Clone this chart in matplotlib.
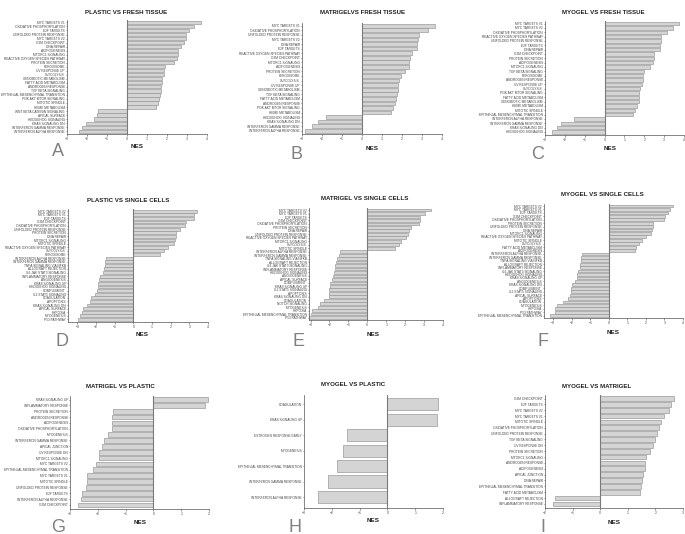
import numpy as np
import matplotlib
matplotlib.use("Agg")
import matplotlib.pyplot as plt

plt.rcParams['font.family'] = ['Liberation Sans', 'DejaVu Sans']

# ---- data (NES per hallmark set, top to bottom as in the figure) ----
a_labels = ["MYC TARGETS V1", "OXIDATIVE PHOSPHORYLATION", "E2F TARGETS", "UNFOLDED PROTEIN RESPONSE",
            "MYC TARGETS V2", "G2M CHECKPOINT", "DNA REPAIR", "ADIPOGENESIS", "MTORC1 SIGNALING",
            "REACTIVE OXYGEN SPECIES PATHWAY", "PROTEIN SECRETION", "PEROXISOME", "UV RESPONSE UP",
            "GLYCOLYSIS", "XENOBIOTIC METABOLISM", "FATTY ACID METABOLISM", "ANDROGEN RESPONSE",
            "TGF BETA SIGNALING", "EPITHELIAL MESENCHYMAL TRANSITION", "PI3K AKT MTOR SIGNALING",
            "MITOTIC SPINDLE", "HEME METABOLISM", "WNT BETA CATENIN SIGNALING", "APICAL SURFACE",
            "HEDGEHOG SIGNALING", "KRAS SIGNALING DN", "INTERFERON GAMMA RESPONSE", "INTERFERON ALPHA RESPONSE"]
a_nes = [3.72, 3.35, 3.1, 2.97, 2.93, 2.85, 2.72, 2.55, 2.55, 2.52, 2.35, 1.92, 1.87, 1.83, 1.77, 1.73,
         1.72, 1.70, 1.67, 1.6, 1.57, 1.47, -1.45, -1.52, -1.63, -2.07, -2.25, -2.4]

b_labels = ["MYC TARGETS V1", "OXIDATIVE PHOSPHORYLATION", "UNFOLDED PROTEIN RESPONSE", "MYC TARGETS V2",
            "DNA REPAIR", "E2F TARGETS", "REACTIVE OXYGEN SPECIES PATHWAY", "G2M CHECKPOINT",
            "MTORC1 SIGNALING", "ADIPOGENESIS", "PROTEIN SECRETION", "PEROXISOME", "GLYCOLYSIS",
            "UV RESPONSE UP", "XENOBIOTIC METABOLISM", "TGF BETA SIGNALING", "FATTY ACID METABOLISM",
            "ANDROGEN RESPONSE", "PI3K AKT MTOR SIGNALING", "HEME METABOLISM", "HEDGEHOG SIGNALING",
            "KRAS SIGNALING DN", "INTERFERON GAMMA RESPONSE", "INTERFERON ALPHA RESPONSE"]
b_nes = [3.66, 3.32, 2.85, 2.81, 2.76, 2.73, 2.5, 2.42, 2.37, 2.34, 2.17, 1.95, 1.85, 1.81, 1.78, 1.73,
         1.69, 1.64, 1.54, 1.44, -1.78, -2.19, -2.49, -2.86]

c_labels = ["MYC TARGETS V1", "MYC TARGETS V2", "OXIDATIVE PHOSPHORYLATION", "REACTIVE OXYGEN SPECIES PATHWAY",
            "UNFOLDED PROTEIN RESPONSE", "E2F TARGETS", "DNA REPAIR", "G2M CHECKPOINT", "PROTEIN SECRETION",
            "ADIPOGENESIS", "MTORC1 SIGNALING", "TGF BETA SIGNALING", "PEROXISOME", "ANDROGEN RESPONSE",
            "UV RESPONSE UP", "GLYCOLYSIS", "PI3K AKT MTOR SIGNALING", "FATTY ACID METABOLISM",
            "XENOBIOTIC METABOLISM", "HEME METABOLISM", "MITOTIC SPINDLE", "EPITHELIAL MESENCHYMAL TRANSITION",
            "INTERFERON ALPHA RESPONSE", "INTERFERON GAMMA RESPONSE", "KRAS SIGNALING DN", "HEDGEHOG SIGNALING"]
c_nes = [3.73, 3.44, 3.14, 2.85, 2.83, 2.8, 2.81, 2.51, 2.49, 2.46, 2.31, 2.0, 1.95, 1.92, 1.9, 1.78,
         1.75, 1.75, 1.71, 1.64, 1.53, 1.42, -1.56, -2.19, -2.41, -2.66]

d_labels = ["MYC TARGETS V2", "MYC TARGETS V1", "E2F TARGETS", "G2M CHECKPOINT", "OXIDATIVE PHOSPHORYLATION",
            "UNFOLDED PROTEIN RESPONSE", "PROTEIN SECRETION", "DNA REPAIR", "MTORC1 SIGNALING",
            "MITOTIC SPINDLE", "REACTIVE OXYGEN SPECIES PATHWAY", "GLYCOLYSIS", "PEROXISOME",
            "INTERFERON ALPHA RESPONSE", "INTERFERON GAMMA RESPONSE", "TNFA SIGNALING VIA NFKB",
            "ALLOGRAFT REJECTION", "IL6 JAK STAT3 SIGNALING", "INFLAMMATORY RESPONSE", "ANGIOGENESIS",
            "KRAS SIGNALING UP", "HEDGEHOG SIGNALING", "COMPLEMENT", "IL2 STAT5 SIGNALING", "COAGULATION",
            "APOPTOSIS", "KRAS SIGNALING DN", "APICAL SURFACE", "HYPOXIA", "MYOGENESIS", "P53 PATHWAY"]
d_nes = [3.39, 3.23, 3.23, 2.84, 2.77, 2.48, 2.29, 2.27, 2.25, 2.2, 1.88, 1.64, 1.43, -1.48, -1.5,
         -1.52, -1.57, -1.64, -1.77, -1.82, -1.88, -1.89, -1.96, -2.04, -2.27, -2.34, -2.5, -2.68,
         -2.77, -2.84, -2.98]

e_labels = ["MYC TARGETS V2", "MYC TARGETS V1", "E2F TARGETS", "G2M CHECKPOINT", "OXIDATIVE PHOSPHORYLATION",
            "PROTEIN SECRETION", "DNA REPAIR", "UNFOLDED PROTEIN RESPONSE", "REACTIVE OXYGEN SPECIES PATHWAY",
            "MTORC1 SIGNALING", "GLYCOLYSIS", "MITOTIC SPINDLE", "INTERFERON ALPHA RESPONSE",
            "INTERFERON GAMMA RESPONSE", "TNFA SIGNALING VIA NFKB", "ALLOGRAFT REJECTION",
            "IL6 JAK STAT3 SIGNALING", "INFLAMMATORY RESPONSE", "HEDGEHOG SIGNALING", "ANGIOGENESIS",
            "APICAL SURFACE", "COMPLEMENT", "KRAS SIGNALING UP", "IL2 STAT5 SIGNALING", "APOPTOSIS",
            "KRAS SIGNALING DN", "COAGULATION", "NOTCH SIGNALING", "MYOGENESIS", "HYPOXIA",
            "EPITHELIAL MESENCHYMAL TRANSITION", "P53 PATHWAY"]
e_nes = [3.39, 3.04, 2.81, 2.77, 2.72, 2.32, 2.19, 2.16, 2.04, 1.79, 1.67, 1.46, -1.46, -1.47, -1.61,
         -1.63, -1.68, -1.7, -1.74, -1.81, -1.84, -1.95, -1.96, -2.0, -2.0, -2.02, -2.3, -2.51, -2.58,
         -2.91, -2.95, -3.1]

f_labels = ["MYC TARGETS V2", "MYC TARGETS V1", "E2F TARGETS", "G2M CHECKPOINT", "OXIDATIVE PHOSPHORYLATION",
            "PROTEIN SECRETION", "UNFOLDED PROTEIN RESPONSE", "DNA REPAIR", "MTORC1 SIGNALING",
            "REACTIVE OXYGEN SPECIES PATHWAY", "MITOTIC SPINDLE", "GLYCOLYSIS", "FATTY ACID METABOLISM",
            "ADIPOGENESIS", "INTERFERON ALPHA RESPONSE", "INTERFERON GAMMA RESPONSE", "TNFA SIGNALING VIA NFKB",
            "ALLOGRAFT REJECTION", "INFLAMMATORY RESPONSE", "IL6 JAK STAT3 SIGNALING", "HEDGEHOG SIGNALING",
            "KRAS SIGNALING UP", "ANGIOGENESIS", "KRAS SIGNALING DN", "COMPLEMENT", "IL2 STAT5 SIGNALING",
            "APICAL SURFACE", "APOPTOSIS", "COAGULATION", "MYOGENESIS", "HYPOXIA", "P53 PATHWAY",
            "EPITHELIAL MESENCHYMAL TRANSITION"]
f_nes = [3.48, 3.29, 3.2, 3.02, 3.0, 2.38, 2.36, 2.32, 2.3, 2.0, 1.77, 1.64, 1.46, 1.43, -1.46, -1.48,
         -1.5, -1.54, -1.55, -1.64, -1.7, -1.73, -1.84, -2.0, -2.04, -2.05, -2.11, -2.2, -2.5, -2.82,
         -2.88, -2.91, -3.18]

g_labels = ["KRAS SIGNALING UP", "INFLAMMATORY RESPONSE", "PROTEIN SECRETION", "ANDROGEN RESPONSE",
            "ADIPOGENESIS", "OXIDATIVE PHOSPHORYLATION", "MYOGENESIS", "INTERFERON GAMMA RESPONSE",
            "APICAL JUNCTION", "UV RESPONSE DN", "MTORC1 SIGNALING", "MYC TARGETS V2",
            "EPITHELIAL MESENCHYMAL TRANSITION", "MYC TARGETS V1", "MITOTIC SPINDLE",
            "UNFOLDED PROTEIN RESPONSE", "E2F TARGETS", "INTERFERON ALPHA RESPONSE", "G2M CHECKPOINT"]
g_nes = [1.97, 1.86, -1.44, -1.48, -1.48, -1.48, -1.62, -1.76, -1.85, -1.94, -1.96, -2.08, -2.16,
         -2.38, -2.38, -2.41, -2.57, -2.6, -2.7]

h_labels = ["COAGULATION", "KRAS SIGNALING UP", "ESTROGEN RESPONSE EARLY", "MYOGENESIS",
            "EPITHELIAL MESENCHYMAL TRANSITION", "INTERFERON GAMMA RESPONSE", "INTERFERON ALPHA RESPONSE"]
h_nes = [1.83, 1.79, -1.45, -1.59, -1.81, -2.14, -2.49]

i_labels = ["G2M CHECKPOINT", "E2F TARGETS", "MYC TARGETS V2", "MYC TARGETS V1", "MITOTIC SPINDLE",
            "OXIDATIVE PHOSPHORYLATION", "UNFOLDED PROTEIN RESPONSE", "TGF BETA SIGNALING", "UV RESPONSE DN",
            "PROTEIN SECRETION", "MTORC1 SIGNALING", "ANDROGEN RESPONSE", "ADIPOGENESIS", "APICAL JUNCTION",
            "DNA REPAIR", "EPITHELIAL MESENCHYMAL TRANSITION", "FATTY ACID METABOLISM",
            "ALLOGRAFT REJECTION", "INFLAMMATORY RESPONSE"]
i_nes = [2.69, 2.58, 2.48, 2.31, 2.19, 2.12, 2.04, 1.98, 1.9, 1.8, 1.65, 1.61, 1.61, 1.54, 1.53, 1.48,
         1.46, -1.65, -1.72]

titles = ["PLASTIC VS FRESH TISSUE", "MATRIGELVS FRESH TISSUE", "MYOGEL VS FRESH TISSUE",
          "PLASTIC VS SINGLE CELLS", "MATRIGEL VS SINGLE CELLS", "MYOGEL VS SINGLE CELLS",
          "MATRIGEL VS PLASTIC", "MYOGEL VS PLASTIC", "MYOGEL VS MATRIGEL"]
letters = ["A", "B", "C", "D", "E", "F", "G", "H", "I"]

W, H = 685, 534
fig = plt.figure(figsize=(W / 100, H / 100), dpi=100)


def px_axes(left, right, top, bottom):
    return fig.add_axes([left / W, 1 - bottom / H, (right - left) / W, (bottom - top) / H])


def panel(box, labels, nes, xlim, title, title_pos, nes_pos, letter, letter_pos):
    ax = px_axes(*box)
    y = np.arange(len(labels))
    ax.barh(y, nes, height=0.8, color="#d4d4d4", edgecolor="#9a9a9a", linewidth=0.5)
    ax.axvline(0, color="#7a7a7a", lw=0.8)
    ax.set_ylim(len(labels) - 0.3, -0.6)
    ax.set_xlim(*xlim)
    ax.set_xticks(range(int(np.ceil(xlim[0])), int(xlim[1]) + 1))
    ax.set_yticks(y)
    ax.set_yticklabels(labels, fontsize=2.3, color="#333333")
    ax.tick_params(axis="x", labelsize=2.4, length=1.5, width=0.4, pad=1, colors="#444444")
    ax.tick_params(axis="y", length=1, width=0.4, pad=0.5, colors="#444444")
    for s in ["top", "right"]:
        ax.spines[s].set_visible(False)
    for s in ["left", "bottom"]:
        ax.spines[s].set_color("#555555")
        ax.spines[s].set_linewidth(0.5)
    fig.text(title_pos[0] / W, 1 - title_pos[1] / H, title, fontsize=4.4, fontweight="bold",
             ha="center", va="center", color="#222222")
    fig.text(nes_pos[0] / W, 1 - nes_pos[1] / H, "NES", fontsize=4.6, fontweight="bold",
             ha="center", va="center", color="#222222")
    fig.text(letter_pos[0] / W, 1 - letter_pos[1] / H, letter, fontsize=13,
             ha="center", va="center", color="#808080")


panel((67, 207, 20, 134), a_labels, a_nes, (-3, 4), titles[0], (126, 12), (137, 147), letters[0], (58, 152))
panel((302, 442, 23, 134), b_labels, b_nes, (-3, 4), titles[1], (363, 13), (372, 149), letters[1], (296, 155))
panel((545, 684, 21, 135), c_labels, c_nes, (-3, 4), titles[2], (603, 13), (610, 149), letters[2], (538, 155))
panel((68, 208, 209, 322), d_labels, d_nes, (-3.5, 4), titles[3], (128, 200), (142, 335), letters[3], (62, 342))
panel((309, 443, 208, 320), e_labels, e_nes, (-3.08, 4), titles[4], (365, 199), (373, 335), letters[4], (298, 342))
panel((544, 683, 204, 318), f_labels, f_nes, (-3.5, 4), titles[5], (602, 195), (613, 332), letters[5], (543, 342))
panel((70, 209, 396, 509), g_labels, g_nes, (-3, 2), titles[6], (120, 387), (140, 522), letters[6], (58, 527))
panel((304, 443, 395, 508), h_labels, h_nes, (-3, 2), titles[7], (353, 385), (373, 521), letters[7], (295, 527))
panel((545, 683, 395, 508), i_labels, i_nes, (-2, 3), titles[8], (597, 386), (614, 522), letters[8], (543, 527))

fig.savefig("out.png", dpi=100)
